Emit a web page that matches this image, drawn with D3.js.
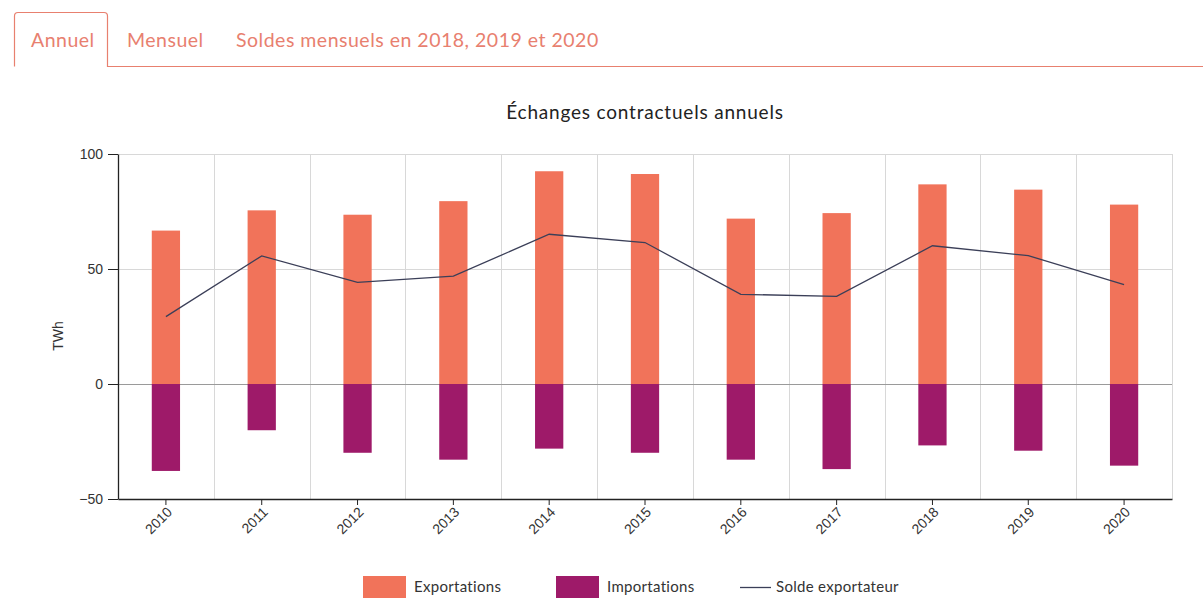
<!DOCTYPE html>
<html lang="fr">
<head>
<meta charset="utf-8">
<script src="https://cdn.jsdelivr.net/npm/d3@7"></script>
<style>
  html, body { margin: 0; padding: 0; background: #fff; }
  svg { display: block; }
</style>
</head>
<body>
<svg id="chart" width="1203" height="598"></svg>
<script>
// Annual contractual exchanges (TWh)
const years = ["2010","2011","2012","2013","2014","2015","2016","2017","2018","2019","2020"];
const exportations = [66.7, 75.5, 73.6, 79.5, 92.5, 91.3, 71.9, 74.3, 86.8, 84.5, 78.0];
const importations = [-37.8, -20.1, -29.9, -32.9, -28.1, -29.9, -32.9, -37.0, -26.7, -29.0, -35.5];
const soldeExportateur = [29.3, 55.7, 44.2, 46.9, 65.1, 61.5, 39.0, 38.1, 60.1, 55.8, 43.2];
const yTicks = [-50, 0, 50, 100];
const tabs = ["Annuel", "Mensuel", "Soldes mensuels en 2018, 2019 et 2020"];

const colExport = "#f1735a";
const colImport = "#9e1a69";
const colLine = "#3b3f58";
const colTab = "#e8806f";
const humanist = "Lato, 'Open Sans', sans-serif";
const axisFont = "'Liberation Sans', Arial, sans-serif";

const svg = d3.select("#chart");

// ---- tabs ----
const tabG = svg.append("g");
tabG.append("path")
  .attr("d", "M14.5,66.5 L14.5,16 Q14.5,12.5 18,12.5 L104,12.5 Q107.5,12.5 107.5,16 L107.5,66.5 L1203,66.5")
  .attr("fill", "none").attr("stroke", colTab).attr("stroke-width", 1.2);
const tabX = [31, 127, 236];
tabG.selectAll("text.tab").data(tabs).join("text")
  .attr("class", "tab")
  .attr("x", (d, i) => tabX[i]).attr("y", 47)
  .attr("font-family", humanist).attr("font-size", 19.5)
  .attr("letter-spacing", 0.5)
  .attr("fill", colTab)
  .text(d => d);

// ---- chart frame ----
const m = { left: 118, right: 1172, top: 154, bottom: 499 };

const x = d3.scaleBand().domain(years).range([m.left, m.right]).padding(0);
const y = d3.scaleLinear().domain([-50, 100]).range([m.bottom, m.top]);
const barW = x.bandwidth() * 0.295;
const cx = d => x(d) + x.bandwidth() / 2;

// title
svg.append("text")
  .attr("x", (m.left + m.right) / 2).attr("y", 119)
  .attr("text-anchor", "middle")
  .attr("font-family", humanist).attr("font-size", 19)
  .attr("letter-spacing", 0.8)
  .attr("fill", "#222")
  .text("Échanges contractuels annuels");

// grid: vertical band separators
const grid = svg.append("g");
grid.selectAll("line.v").data(years).join("line")
  .attr("class", "v")
  .attr("x1", d => Math.round(x(d) + x.bandwidth()) + 0.5)
  .attr("x2", d => Math.round(x(d) + x.bandwidth()) + 0.5)
  .attr("y1", m.top).attr("y2", m.bottom)
  .attr("stroke", "#d8d8d8").attr("stroke-width", 1);
// horizontal grid
grid.selectAll("line.h").data(yTicks.filter(t => t > -50)).join("line")
  .attr("class", "h")
  .attr("x1", m.left).attr("x2", m.right)
  .attr("y1", d => Math.round(y(d)) + 0.5).attr("y2", d => Math.round(y(d)) + 0.5)
  .attr("stroke", d => d === 0 ? "#9a9a9a" : "#d8d8d8").attr("stroke-width", 1);

// bars
svg.append("g").selectAll("rect").data(years).join("rect")
  .attr("x", d => cx(d) - barW / 2)
  .attr("width", barW)
  .attr("y", (d, i) => y(exportations[i]))
  .attr("height", (d, i) => y(0) - y(exportations[i]))
  .attr("fill", colExport);
svg.append("g").selectAll("rect").data(years).join("rect")
  .attr("x", d => cx(d) - barW / 2)
  .attr("width", barW)
  .attr("y", y(0))
  .attr("height", (d, i) => y(importations[i]) - y(0))
  .attr("fill", colImport);

// net balance line
const line = d3.line().x(d => cx(d[0])).y(d => y(d[1]));
svg.append("path")
  .datum(years.map((d, i) => [d, soldeExportateur[i]]))
  .attr("d", line)
  .attr("fill", "none").attr("stroke", colLine).attr("stroke-width", 1.3);

// y axis
const yAxis = svg.append("g")
  .attr("transform", `translate(${m.left},0)`)
  .call(d3.axisLeft(y).tickValues(yTicks).tickSize(10).tickSizeOuter(0).tickPadding(5));
yAxis.select(".domain").attr("stroke", "#222").attr("stroke-width", 1.3);
yAxis.selectAll(".tick line").attr("stroke", "#222");
yAxis.selectAll(".tick text")
  .attr("font-family", axisFont).attr("font-size", 14).attr("fill", "#333");

svg.append("text")
  .attr("transform", `translate(63,336) rotate(-90)`)
  .attr("text-anchor", "middle")
  .attr("font-family", axisFont).attr("font-size", 14).attr("fill", "#333")
  .text("TWh");

// x axis
const xAxis = svg.append("g")
  .attr("transform", `translate(0,${m.bottom})`)
  .call(d3.axisBottom(x).tickSize(6).tickSizeOuter(0));
xAxis.select(".domain").attr("stroke", "#222").attr("stroke-width", 1.3);
xAxis.selectAll(".tick line").attr("stroke", "#222");
xAxis.selectAll(".tick text")
  .attr("font-family", axisFont).attr("font-size", 14).attr("fill", "#333")
  .attr("text-anchor", "end")
  .attr("dy", null)
  .attr("transform", "translate(7,14) rotate(-45)")
  .attr("x", 0).attr("y", 0);

// legend
const legend = svg.append("g").attr("font-family", humanist).attr("font-size", 15)
  .attr("letter-spacing", 0.3).attr("fill", "#333");
const legendItems = [
  { label: "Exportations", type: "rect", color: colExport, x: 363 },
  { label: "Importations", type: "rect", color: colImport, x: 556 },
  { label: "Solde exportateur", type: "line", color: colLine, x: 740 }
];
legendItems.forEach(it => {
  if (it.type === "rect") {
    legend.append("rect").attr("x", it.x).attr("y", 576).attr("width", 43).attr("height", 22).attr("fill", it.color);
    legend.append("text").attr("x", it.x + 51).attr("y", 592).text(it.label);
  } else {
    legend.append("line").attr("x1", it.x).attr("x2", it.x + 31).attr("y1", 587.5).attr("y2", 587.5)
      .attr("stroke", it.color).attr("stroke-width", 1.3);
    legend.append("text").attr("x", it.x + 36).attr("y", 592).text(it.label);
  }
});
</script>
</body>
</html>
